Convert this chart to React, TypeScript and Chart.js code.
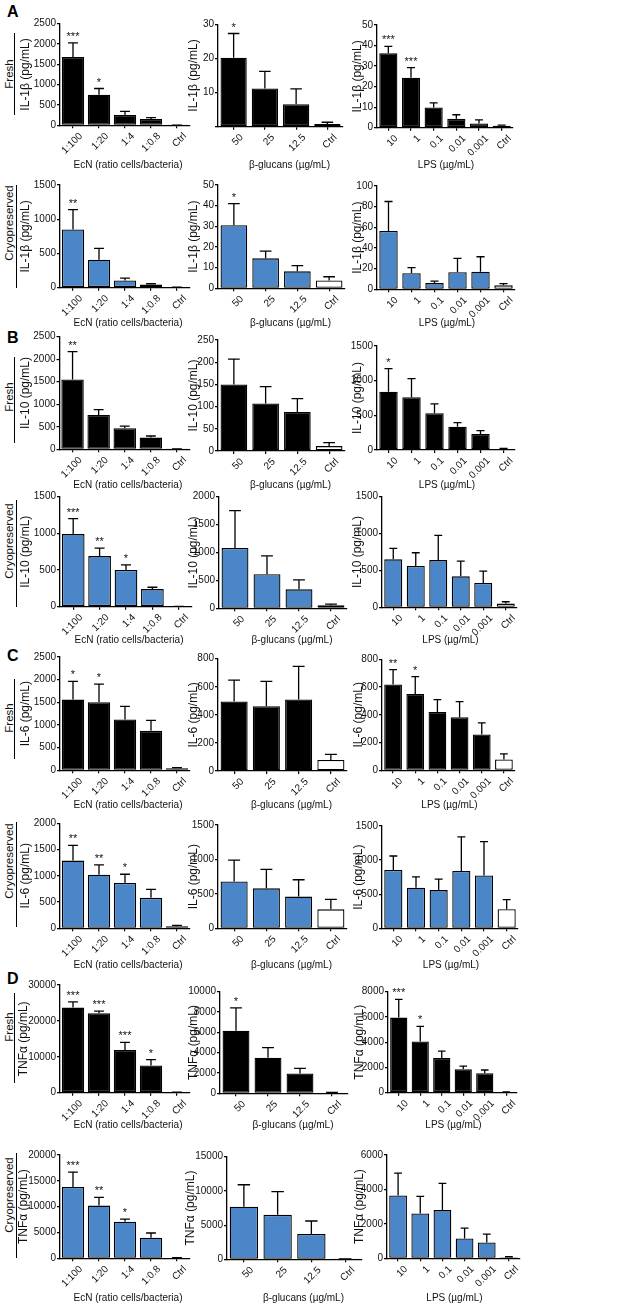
import React, { useEffect, useRef } from 'react';
import { Chart, registerables } from 'chart.js';

Chart.register(...registerables);

const FONT = "'Liberation Sans', Arial, Helvetica, sans-serif";
const INK = '#111111';
const BLUE = '#4b87c8';
const BLACK = '#000000';

// ---------- categories / text ----------
const ecnLabels = ['1:100', '1:20', '1:4', '1:0.8', 'Ctrl'];
const glucanLabels = ['50', '25', '12.5', 'Ctrl'];
const lpsLabels = ['10', '1', '0.1', '0.01', '0.001', 'Ctrl'];
const xTitles = ['EcN (ratio cells/bacteria)', 'β-glucans (µg/mL)', 'LPS (µg/mL)'];
const panelLetters = ['A', 'B', 'C', 'D'];
const conditionLabels = ['Fresh', 'Cryopreserved'];
const cytokineTitles = ['IL-1β (pg/mL)', 'IL-10 (pg/mL)', 'IL-6 (pg/mL)', 'TNFα (pg/mL)'];

// ---------- IL-1β fresh ----------
const il1bFreshEcn = [1680, 750, 255, 155, 4];
const il1bFreshEcnErr = [2030, 905, 345, 190, 6];
const il1bFreshEcnSig = ['***', '*', '', '', ''];
const il1bFreshGlu = [20.2, 11.2, 6.6, 0.8];
const il1bFreshGluErr = [27.3, 16.2, 11.1, 1.3];
const il1bFreshGluSig = ['*', '', '', ''];
const il1bFreshLps = [36.2, 24.3, 9.8, 4.3, 2.1, 0.9];
const il1bFreshLpsErr = [39.6, 29.2, 12.1, 6.3, 3.8, 1.3];
const il1bFreshLpsSig = ['***', '***', '', '', '', ''];
const il1bFreshYMax = [2500, 30, 50];
const il1bFreshYStep = [500, 10, 10];

// ---------- IL-1β cryopreserved ----------
const il1bCryoEcn = [850, 410, 105, 45, 5];
const il1bCryoEcnErr = [1140, 575, 140, 58, 7];
const il1bCryoEcnSig = ['**', '', '', '', ''];
const il1bCryoGlu = [30.5, 14.5, 8.2, 3.8];
const il1bCryoGluErr = [41, 18, 11, 5.6];
const il1bCryoGluSig = ['*', '', '', ''];
const il1bCryoLps = [56.5, 15.5, 6, 16.5, 17, 3.8];
const il1bCryoLpsErr = [85, 21, 8, 30, 31.5, 5.5];
const il1bCryoLpsSig = ['', '', '', '', '', ''];
const il1bCryoYMax = [1500, 50, 100];
const il1bCryoYStep = [500, 10, 20];

// ---------- IL-10 fresh ----------
const il10FreshEcn = [1550, 760, 470, 260, 5];
const il10FreshEcnErr = [2170, 880, 515, 295, 8];
const il10FreshEcnSig = ['**', '', '', '', ''];
const il10FreshGlu = [150, 107, 88, 11];
const il10FreshGluErr = [207, 145, 118, 19];
const il10FreshGluSig = ['', '', '', ''];
const il10FreshLps = [840, 760, 530, 335, 230, 15];
const il10FreshLpsErr = [1175, 1030, 665, 395, 280, 22];
const il10FreshLpsSig = ['*', '', '', '', '', ''];
const il10FreshYMax = [2500, 250, 1500];
const il10FreshYStep = [500, 50, 500];

// ---------- IL-10 cryopreserved ----------
const il10CryoEcn = [990, 690, 500, 240, 3];
const il10CryoEcnErr = [1200, 800, 570, 265, 4];
const il10CryoEcnSig = ['***', '**', '*', '', ''];
const il10CryoGlu = [1080, 610, 340, 55];
const il10CryoGluErr = [1750, 940, 510, 75];
const il10CryoGluSig = ['', '', '', ''];
const il10CryoLps = [650, 560, 640, 420, 330, 50];
const il10CryoLpsErr = [800, 740, 975, 625, 490, 75];
const il10CryoLpsSig = ['', '', '', '', '', ''];
const il10CryoYMax = [1500, 2000, 1500];
const il10CryoYStep = [500, 500, 500];

// ---------- IL-6 fresh ----------
const il6FreshEcn = [1560, 1500, 1120, 870, 45];
const il6FreshEcnErr = [1960, 1900, 1410, 1100, 60];
const il6FreshEcnSig = ['*', '*', '', '', ''];
const il6FreshGlu = [495, 462, 510, 78];
const il6FreshGluErr = [648, 638, 745, 118];
const il6FreshGluSig = ['', '', '', ''];
const il6FreshLps = [618, 550, 420, 383, 258, 78];
const il6FreshLpsErr = [725, 675, 510, 495, 342, 118];
const il6FreshLpsSig = ['**', '*', '', '', '', ''];
const il6FreshYMax = [2500, 800, 800];
const il6FreshYStep = [500, 200, 200];

// ---------- IL-6 cryopreserved ----------
const il6CryoEcn = [1290, 1020, 865, 580, 40];
const il6CryoEcnErr = [1580, 1210, 1030, 740, 55];
const il6CryoEcnSig = ['**', '**', '*', '', ''];
const il6CryoGlu = [680, 580, 460, 275];
const il6CryoGluErr = [990, 855, 705, 420];
const il6CryoGluSig = ['', '', '', ''];
const il6CryoLps = [855, 595, 560, 840, 775, 280];
const il6CryoLpsErr = [1060, 755, 720, 1340, 1270, 420];
const il6CryoLpsSig = ['', '', '', '', '', ''];
const il6CryoYMax = [2000, 1500, 1500];
const il6CryoYStep = [500, 500, 500];

// ---------- TNFα fresh ----------
const tnfFreshEcn = [23700, 22100, 11900, 7600, 100];
const tnfFreshEcnErr = [25300, 22700, 14000, 9200, 150];
const tnfFreshEcnSig = ['***', '***', '***', '*', ''];
const tnfFreshGlu = [6150, 3500, 1950, 50];
const tnfFreshGluErr = [8400, 4500, 2450, 80];
const tnfFreshGluSig = ['*', '', '', ''];
const tnfFreshLps = [5950, 4050, 2750, 1850, 1550, 50];
const tnfFreshLpsErr = [7400, 5250, 3300, 2100, 1800, 70];
const tnfFreshLpsSig = ['***', '*', '', '', '', ''];
const tnfFreshYMax = [30000, 10000, 8000];
const tnfFreshYStep = [10000, 2000, 2000];

// ---------- TNFα cryopreserved ----------
const tnfCryoEcn = [13800, 10200, 7100, 4000, 100];
const tnfCryoEcnErr = [16700, 11800, 7600, 4900, 130];
const tnfCryoEcnSig = ['***', '**', '*', '', ''];
const tnfCryoGlu = [7700, 6500, 3700, 50];
const tnfCryoGluErr = [10900, 9900, 5600, 70];
const tnfCryoGluSig = ['', '', '', ''];
const tnfCryoLps = [3650, 2600, 2800, 1150, 920, 60];
const tnfCryoLpsErr = [4950, 3600, 4350, 1750, 1400, 90];
const tnfCryoLpsSig = ['', '', '', '', '', ''];
const tnfCryoYMax = [20000, 15000, 6000];
const tnfCryoYStep = [5000, 5000, 2000];

const columnLabels = [ecnLabels, glucanLabels, lpsLabels];

const rows = [
  { cyto: 0, fresh: true, yMax: il1bFreshYMax, yStep: il1bFreshYStep, sets: [[il1bFreshEcn, il1bFreshEcnErr, il1bFreshEcnSig], [il1bFreshGlu, il1bFreshGluErr, il1bFreshGluSig], [il1bFreshLps, il1bFreshLpsErr, il1bFreshLpsSig]] },
  { cyto: 0, fresh: false, yMax: il1bCryoYMax, yStep: il1bCryoYStep, sets: [[il1bCryoEcn, il1bCryoEcnErr, il1bCryoEcnSig], [il1bCryoGlu, il1bCryoGluErr, il1bCryoGluSig], [il1bCryoLps, il1bCryoLpsErr, il1bCryoLpsSig]] },
  { cyto: 1, fresh: true, yMax: il10FreshYMax, yStep: il10FreshYStep, sets: [[il10FreshEcn, il10FreshEcnErr, il10FreshEcnSig], [il10FreshGlu, il10FreshGluErr, il10FreshGluSig], [il10FreshLps, il10FreshLpsErr, il10FreshLpsSig]] },
  { cyto: 1, fresh: false, yMax: il10CryoYMax, yStep: il10CryoYStep, sets: [[il10CryoEcn, il10CryoEcnErr, il10CryoEcnSig], [il10CryoGlu, il10CryoGluErr, il10CryoGluSig], [il10CryoLps, il10CryoLpsErr, il10CryoLpsSig]] },
  { cyto: 2, fresh: true, yMax: il6FreshYMax, yStep: il6FreshYStep, sets: [[il6FreshEcn, il6FreshEcnErr, il6FreshEcnSig], [il6FreshGlu, il6FreshGluErr, il6FreshGluSig], [il6FreshLps, il6FreshLpsErr, il6FreshLpsSig]] },
  { cyto: 2, fresh: false, yMax: il6CryoYMax, yStep: il6CryoYStep, sets: [[il6CryoEcn, il6CryoEcnErr, il6CryoEcnSig], [il6CryoGlu, il6CryoGluErr, il6CryoGluSig], [il6CryoLps, il6CryoLpsErr, il6CryoLpsSig]] },
  { cyto: 3, fresh: true, yMax: tnfFreshYMax, yStep: tnfFreshYStep, sets: [[tnfFreshEcn, tnfFreshEcnErr, tnfFreshEcnSig], [tnfFreshGlu, tnfFreshGluErr, tnfFreshGluSig], [tnfFreshLps, tnfFreshLpsErr, tnfFreshLpsSig]] },
  { cyto: 3, fresh: false, yMax: tnfCryoYMax, yStep: tnfCryoYStep, sets: [[tnfCryoEcn, tnfCryoEcnErr, tnfCryoEcnSig], [tnfCryoGlu, tnfCryoGluErr, tnfCryoGluSig], [tnfCryoLps, tnfCryoLpsErr, tnfCryoLpsSig]] },
];

// ---------- layout (page pixels) ----------
const L_plotTop = [[23.7, 24.3, 25], [185, 185, 186], [336.7, 340, 346], [496.7, 496.7, 496.7], [657, 658.7, 659.3], [823.3, 825, 826], [985, 991.7, 991.7], [1155, 1156.7, 1155]];
const L_plotBottom = [[125.3, 126.7, 127.7], [287.7, 288.3, 289.3], [449.3, 451, 450], [606.7, 608.3, 607.3], [770.3, 771, 770.3], [928.3, 928.3, 928.3], [1092.7, 1093.3, 1092.7], [1258.3, 1259.3, 1258.3]];
const L_axisX = [[60, 218, 377], [60, 218, 377], [59.5, 218, 377], [60, 219, 382], [60, 218, 382], [60, 218, 382], [60, 220, 388], [60, 227, 387]];
const L_plotRight = [[190, 343, 513], [190, 345, 515], [190, 345, 515], [192, 347, 517], [190, 347, 515], [190, 347, 518], [190, 348, 517], [190, 362, 520]];
const L_yTitleX = [[25.5, 193, 357], [25.5, 193, 357], [25.5, 193, 357], [25.5, 193, 357], [25.5, 193, 358], [25.5, 193, 358], [23.5, 193, 359], [23.5, 190, 359]];
const L_xTitleY = [165, 323, 485, 640, 805, 965, 1125, 1298];
const L_xTitleShift = [3, 9, 1];
const L_barPct = [0.86, 0.84, 0.8];
const L_condTextY = [74, 223, 397, 541, 718, 861, 1027, 1195];
const L_condLine = [[33, 115], [185, 288], [357, 443], [500, 607], [679, 759], [822, 927], [993, 1083], [1153, 1258]];
const L_letterTop = [4, 330, 648, 971];

const Y_TITLE_SIZE = 12;
const X_TITLE_SIZE = 10;
const TICK_SIZE = 10;
const PAD_TOP = 30;
const PAD_RIGHT = 10;

function geometry(r: number, c: number) {
  const plotTop = L_plotTop[r][c];
  const plotBottom = L_plotBottom[r][c];
  const axisX = L_axisX[r][c];
  const plotRight = L_plotRight[r][c];
  const yTitleX = L_yTitleX[r][c];
  const xTitleY = L_xTitleY[r];
  const left = Math.round(yTitleX - (Y_TITLE_SIZE * 1.2) / 2);
  const top = Math.round(plotTop - PAD_TOP);
  const padTop = plotTop - top;
  const bottom = Math.round(xTitleY + (X_TITLE_SIZE * 1.2) / 2);
  const height = bottom - top;
  const xH = bottom - plotBottom;
  const width = Math.round(plotRight + PAD_RIGHT - left);
  const padRight = left + width - plotRight;
  const yW = axisX - left;
  const titleY = xTitleY - top;
  const titleShift = L_xTitleShift[c];
  return { left, top, width, height, padTop, padRight, xH, yW, titleY, titleShift };
}

type Spec = {
  labels: string[];
  values: number[];
  errs: number[];
  sig: string[];
  yMax: number;
  yStep: number;
  yTitle: string;
  xTitle: string;
  fill: string;
  hideZero: boolean;
  barPct: number;
};

function BarPanel({ spec, geo }: { spec: Spec; geo: ReturnType<typeof geometry> }) {
  const ref = useRef<HTMLCanvasElement | null>(null);
  useEffect(() => {
    const canvas = ref.current;
    if (!canvas) return;
    const { labels, values, errs, sig } = spec;
    const errPlugin = {
      id: 'errbars',
      afterDatasetsDraw(chart: any) {
        const ctx = chart.ctx;
        const ys = chart.scales.y;
        const meta = chart.getDatasetMeta(0);
        ctx.save();
        ctx.strokeStyle = '#000';
        ctx.lineWidth = 1.3;
        meta.data.forEach((bar: any, i: number) => {
          const x = bar.x;
          const y0 = ys.getPixelForValue(values[i]);
          const y1 = ys.getPixelForValue(errs[i]);
          const half = bar.width * 0.22;
          ctx.beginPath();
          ctx.moveTo(x, y0);
          ctx.lineTo(x, y1);
          ctx.moveTo(x - half, y1);
          ctx.lineTo(x + half, y1);
          ctx.stroke();
          if (sig[i]) {
            ctx.fillStyle = INK;
            ctx.font = `11px ${FONT}`;
            ctx.textAlign = 'center';
            ctx.textBaseline = 'alphabetic';
            ctx.fillText(sig[i], x, y1 - 3);
          }
        });
        ctx.restore();
      },
      afterDraw(chart: any) {
        const ctx = chart.ctx;
        const area = chart.chartArea;
        ctx.save();
        ctx.fillStyle = INK;
        ctx.font = `${X_TITLE_SIZE}px ${FONT}`;
        ctx.textAlign = 'center';
        ctx.textBaseline = 'middle';
        ctx.fillText(spec.xTitle, (area.left + area.right) / 2 + geo.titleShift, geo.titleY);
        ctx.restore();
      },
    };
    const chart = new Chart(canvas, {
      type: 'bar',
      data: {
        labels,
        datasets: [
          {
            data: values,
            backgroundColor: labels.map((l) => (l === 'Ctrl' ? '#ffffff' : spec.fill)),
            borderColor: '#000',
            borderWidth: 1.3,
            borderSkipped: false,
            barPercentage: spec.barPct,
            categoryPercentage: 1,
          },
        ],
      },
      options: {
        animation: false,
        responsive: false,
        maintainAspectRatio: false,
        devicePixelRatio: 1,
        layout: { padding: { top: geo.padTop, right: geo.padRight, left: 0, bottom: 0 } },
        plugins: { legend: { display: false }, tooltip: { enabled: false } },
        scales: {
          x: {
            offset: true,
            grid: { offset: false, drawOnChartArea: false, drawTicks: true, tickLength: 3, color: '#000', lineWidth: 1.2 },
            border: { display: true, color: '#000', width: 1.3 },
            ticks: {
              font: { family: FONT, size: TICK_SIZE },
              color: INK,
              minRotation: 45,
              maxRotation: 45,
              autoSkip: false,
              padding: 2,
              labelOffset: 8,
            },
            title: { display: false },
            afterFit: (s: any) => {
              s.height = geo.xH;
            },
          },
          y: {
            min: 0,
            max: spec.yMax,
            ticks: {
              stepSize: spec.yStep,
              font: { family: FONT, size: TICK_SIZE },
              color: INK,
              padding: 1,
              callback: (v: any) => (spec.hideZero && Number(v) === 0 ? '' : String(v)),
            },
            grid: { drawOnChartArea: false, drawTicks: true, tickLength: 3, color: '#000', lineWidth: 1.2 },
            border: { display: true, color: '#000', width: 1.3 },
            title: { display: true, text: spec.yTitle, font: { family: FONT, size: Y_TITLE_SIZE }, color: INK, padding: 0 },
            afterFit: (s: any) => {
              s.width = geo.yW;
            },
          },
        },
      },
      plugins: [errPlugin],
    } as any);
    return () => chart.destroy();
  }, []);
  return (
    <canvas
      ref={ref}
      width={geo.width}
      height={geo.height}
      style={{ position: 'absolute', left: geo.left, top: geo.top, width: geo.width, height: geo.height }}
    />
  );
}

export default function App() {
  const panels: JSX.Element[] = [];
  rows.forEach((row, r) => {
    row.sets.forEach((set, c) => {
      const spec: Spec = {
        labels: columnLabels[c],
        values: set[0] as number[],
        errs: set[1] as number[],
        sig: set[2] as string[],
        yMax: row.yMax[c],
        yStep: row.yStep[c],
        yTitle: cytokineTitles[row.cyto],
        xTitle: xTitles[c],
        fill: row.fresh ? BLACK : BLUE,
        hideZero: r === 0 && c === 1,
        barPct: L_barPct[c],
      };
      panels.push(<BarPanel key={`${r}-${c}`} spec={spec} geo={geometry(r, c)} />);
    });
  });

  return (
    <div
      style={{
        position: 'absolute',
        left: 0,
        top: 0,
        width: 624,
        height: 1304,
        background: '#fff',
        fontFamily: FONT,
        color: INK,
        overflow: 'hidden',
      }}
    >
      {panelLetters.map((l, i) => (
        <div
          key={l}
          style={{ position: 'absolute', left: 7, top: L_letterTop[i], fontSize: 16, lineHeight: '16px', fontWeight: 700, color: '#000' }}
        >
          {l}
        </div>
      ))}
      {rows.map((row, r) => (
        <React.Fragment key={`cond-${r}`}>
          <div
            style={{
              position: 'absolute',
              left: 8.5,
              top: L_condTextY[r],
              transform: 'translate(-50%, -50%) rotate(-90deg)',
              fontSize: 11.5,
              lineHeight: '12px',
              whiteSpace: 'nowrap',
            }}
          >
            {conditionLabels[row.fresh ? 0 : 1]}
          </div>
          <div
            style={{
              position: 'absolute',
              left: row.fresh ? 14 : 15.5,
              top: L_condLine[r][0],
              width: 1.2,
              height: L_condLine[r][1] - L_condLine[r][0],
              background: '#000',
            }}
          />
        </React.Fragment>
      ))}
      {panels}
    </div>
  );
}
